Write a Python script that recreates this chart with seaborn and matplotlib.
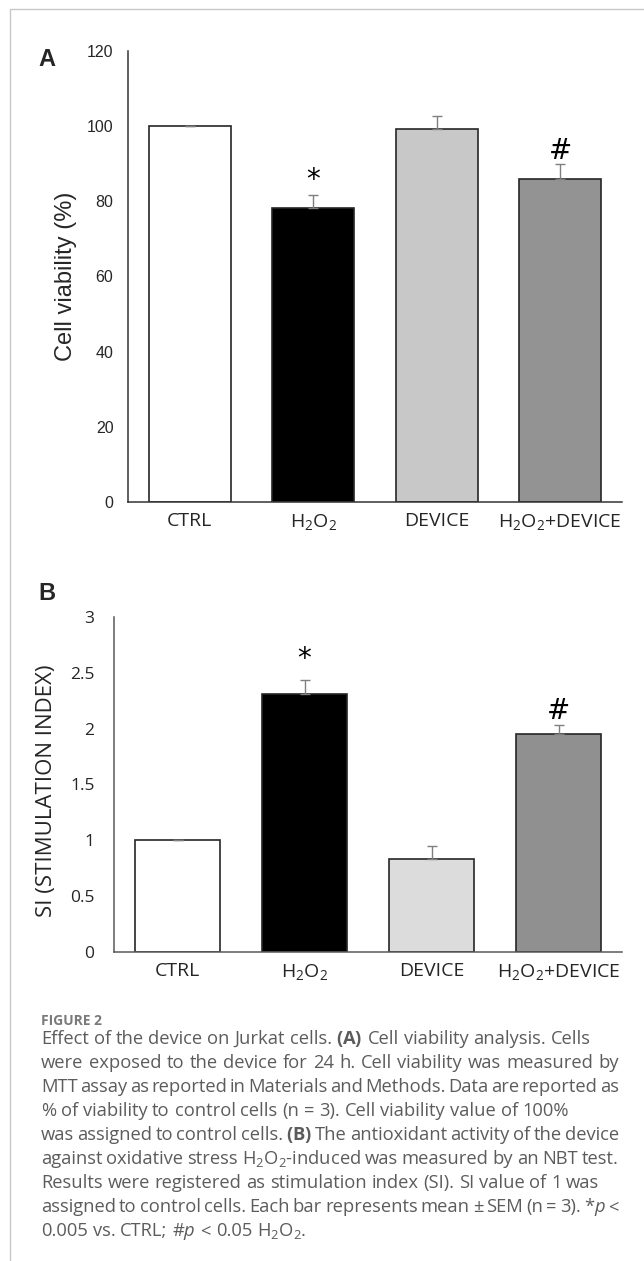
import numpy as np
import matplotlib
matplotlib.use("Agg")
import matplotlib.pyplot as plt
import seaborn as sns
from matplotlib.lines import Line2D

# data
groups = ["CTRL", "H$_2$O$_2$", "DEVICE", "H$_2$O$_2$+DEVICE"]

viability = [100.0, 78.1, 99.2, 86.0]
viability_sem = [0.0, 3.6, 3.6, 3.9]
viability_marks = ["", "*", "", "#"]
viability_mark_y = [0, 85.8, 0, 93.4]

si = [1.0, 2.31, 0.83, 1.955]
si_sem = [0.0, 0.13, 0.12, 0.08]
si_marks = ["", "*", "", "#"]
si_mark_y = [0, 2.62, 0, 2.16]

colors_a = ["#ffffff", "#000000", "#c8c8c8", "#939393"]
colors_b = ["#ffffff", "#000000", "#dcdcdc", "#909090"]

# caption lines, True = justified line
caption_lines = [
    (r"Effect of the device on Jurkat cells. $\mathbf{(A)}$ Cell viability analysis. Cells", False),
    (r"were exposed to the device for 24 h. Cell viability was measured by", True),
    (r"MTT assay as reported in Materials and Methods. Data are reported as", True),
    (r"% of viability to control cells (n = 3). Cell viability value of 100%", False),
    (r"was assigned to control cells. $\mathbf{(B)}$ The antioxidant activity of the device", True),
    (r"against oxidative stress H$_2$O$_2$-induced was measured by an NBT test.", True),
    (r"Results were registered as stimulation index (SI). SI value of 1 was", False),
    (r"assigned to control cells. Each bar represents mean ± SEM (n = 3). *$p$ <", True),
    (r"0.005 vs. CTRL; #$p$ < 0.05 H$_2$O$_2$.", False),
]

sns.set_style("white")
plt.rcParams["mathtext.fontset"] = "custom"
plt.rcParams["mathtext.rm"] = "Open Sans"
plt.rcParams["mathtext.it"] = "Open Sans:italic"
plt.rcParams["mathtext.bf"] = "Open Sans:bold"
plt.rcParams["font.family"] = ["Open Sans", "DejaVu Sans"]

W, H = 644, 1261
fig = plt.figure(figsize=(W / 100, H / 100), dpi=100)


def fx(x):
    return x / W


def fy(y):
    return 1 - y / H


def panel(rect, vals, sem, cols, marks, mark_y, ymax, yticks, ticklabels,
          tickfont, ticksize, tickpad, spine_col):
    ax = fig.add_axes(rect)
    sns.barplot(x=groups, y=vals, hue=groups, palette=cols, legend=False,
                errorbar=None, width=0.665, edgecolor="#262626", linewidth=1.2,
                ax=ax)
    pos = np.arange(len(groups))
    ax.errorbar(pos, vals, yerr=[np.zeros(len(sem)), sem], fmt="none",
                ecolor="#7f7f7f", elinewidth=1.0, capsize=3.3, capthick=1.0)
    for p, m, yy in zip(pos, marks, mark_y):
        if m:
            ax.text(p, yy, m, ha="center", va="center", fontsize=20,
                    family="DejaVu Sans", color="black")
    ax.set_xlim(-0.5, 3.5)
    ax.set_ylim(0, ymax)
    ax.set_yticks(yticks)
    ax.set_yticklabels(ticklabels, family=tickfont, fontsize=ticksize)
    ax.tick_params(axis="y", length=0, pad=tickpad)
    ax.tick_params(axis="x", length=0, pad=7, labelsize=14)
    for s in ["top", "right"]:
        ax.spines[s].set_visible(False)
    for s in ["left", "bottom"]:
        ax.spines[s].set_color(spine_col)
        ax.spines[s].set_linewidth(1.1)
    return ax


# panel A
ax_a = panel([fx(128), fy(502), fx(622) - fx(128), fy(51) - fy(502)],
             viability, viability_sem, colors_a, viability_marks, viability_mark_y,
             120, [0, 20, 40, 60, 80, 100, 120],
             ["0", "20", "40", "60", "80", "100", "120"],
             "Liberation Sans", 11.5, 10.5, "#333333")
ax_a.set_ylabel("Cell viability (%)", family="Liberation Sans", fontsize=17)
ax_a.yaxis.set_label_coords(-0.103, 0.5)

# panel B
ax_b = panel([fx(114), fy(952), fx(622) - fx(114), fy(617) - fy(952)],
             si, si_sem, colors_b, si_marks, si_mark_y,
             3, [0, 0.5, 1, 1.5, 2, 2.5, 3],
             ["0", "0.5", "1", "1.5", "2", "2.5", "3"],
             "Open Sans", 12.5, 14, "#595959")
ax_b.set_ylabel("SI (STIMULATION INDEX)", fontsize=16)
ax_b.yaxis.set_label_coords(-0.112, 0.48)

fig.text(fx(38), fy(60), "A", family="Liberation Sans", fontweight="bold",
         fontsize=17, va="center", ha="left")
fig.text(fx(38), fy(593), "B", family="Liberation Sans", fontweight="bold",
         fontsize=17, va="center", ha="left")

# frame lines of the page
fig.add_artist(Line2D([fx(9.5), fx(9.5)], [0, fy(9)], color="#c8c8c8", lw=1))
fig.add_artist(Line2D([fx(9.5), 1], [fy(9), fy(9)], color="#c8c8c8", lw=1))

# caption
fig.text(fx(41), fy(1021), "FIGURE 2", fontsize=10, fontweight="bold",
         color="#7a7a7a", va="center", ha="left")

renderer = fig.canvas.get_renderer()
cap_kw = dict(fontsize=13.2, color="#5c5c5c", va="baseline", ha="left")
left, right = 41, 619
space_w = None
for i, (line, justify) in enumerate(caption_lines):
    y = fy(1044 + 24.0 * i)
    words = line.split(" ")
    arts = [fig.text(0, y, w, **cap_kw) for w in words]
    widths = [a.get_window_extent(renderer).width for a in arts]
    if space_w is None:
        t = fig.text(0, 0, "a a", **cap_kw)
        t2 = fig.text(0, 0, "aa", **cap_kw)
        space_w = t.get_window_extent(renderer).width - t2.get_window_extent(renderer).width
        t.remove()
        t2.remove()
    if justify:
        gap = (right - left - sum(widths)) / (len(words) - 1)
    else:
        gap = space_w
    x = left
    for a, w in zip(arts, widths):
        a.set_x(fx(x))
        x += w + gap

fig.savefig("out.png", dpi=100)
